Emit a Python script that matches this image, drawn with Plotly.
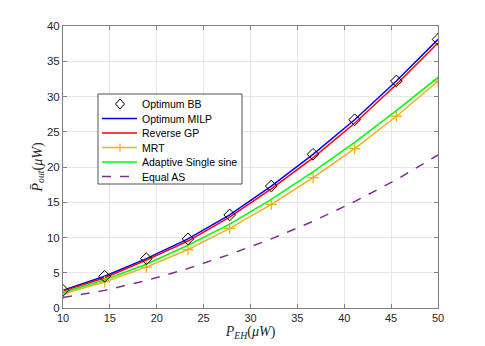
import plotly.graph_objects as go

p_eh = [10, 14.44, 18.89, 23.33, 27.78, 32.22, 36.67, 41.11, 45.56, 50]
opt_bb = [2.5, 4.5, 7.0, 9.8, 13.2, 17.3, 21.8, 26.7, 32.2, 38.1]
opt_milp = [2.5, 4.5, 7.0, 9.8, 13.2, 17.3, 21.8, 26.7, 32.2, 38.1]
rev_gp = [2.4, 4.3, 6.8, 9.5, 12.9, 16.9, 21.3, 26.2, 31.7, 37.6]
mrt = [2.0, 3.7, 5.8, 8.3, 11.3, 14.7, 18.5, 22.6, 27.2, 32.2]
adaptive = [2.2, 4.0, 6.2, 8.9, 11.9, 15.4, 19.3, 23.5, 28.0, 32.7]
equal_as = [1.5, 2.5, 3.9, 5.6, 7.6, 9.8, 12.3, 15.1, 18.2, 21.7]

legend_names = ["Optimum BB", "Optimum MILP", "Reverse GP", "MRT",
                "Adaptive Single sine", "Equal AS"]

_INK = "#262626"
_GRID = "#e6e6e6"
_AXIS = "#808080"
_FONT = "Liberation Sans, Arial, sans-serif"
_SERIF = "Liberation Serif, serif"

BLUE, RED, ORANGE, GREEN, PURPLE = "#0000FF", "#FF0000", "#EDB120", "#00FF00", "#7E2F8E"

fig = go.Figure()
fig.add_trace(go.Scatter(x=p_eh, y=opt_milp, mode="lines", line=dict(color=BLUE, width=1.5)))
fig.add_trace(go.Scatter(x=p_eh, y=rev_gp, mode="lines", line=dict(color=RED, width=1.5)))
fig.add_trace(go.Scatter(x=p_eh, y=mrt, mode="lines+markers", line=dict(color=ORANGE, width=1.5),
                         marker=dict(symbol="cross-thin", size=8,
                                     line=dict(color=ORANGE, width=1.3))))
fig.add_trace(go.Scatter(x=p_eh, y=adaptive, mode="lines", line=dict(color=GREEN, width=1.5)))
fig.add_trace(go.Scatter(x=p_eh, y=equal_as, mode="lines",
                         line=dict(color=PURPLE, width=1.5, dash="dash")))
fig.add_trace(go.Scatter(x=p_eh, y=opt_bb, mode="markers",
                         marker=dict(symbol="diamond-open", size=9, color="black",
                                     line=dict(width=1))))

# --- hand-built legend box (MATLAB-style compact rows) ---
plot_l, plot_r, plot_t, plot_b = 63, 438, 26, 308
def px(x):
    return (x - plot_l) / (plot_r - plot_l)
def py(y):
    return (plot_b - y) / (plot_b - plot_t)

shapes = [dict(type="rect", xref="paper", yref="paper", layer="above",
               x0=px(98), x1=px(242), y0=py(184), y1=py(94),
               fillcolor="white", line=dict(color=_INK, width=0.8))]
row_y = [104, 118.6, 133, 147.5, 162, 176.5]
line_styles = [None, (BLUE, "solid"), (RED, "solid"), (ORANGE, "solid"),
               (GREEN, "solid"), (PURPLE, "dash")]
annotations = []
for name, ry, st in zip(legend_names, row_y, line_styles):
    if st is not None:
        shapes.append(dict(type="line", xref="paper", yref="paper", layer="above",
                           x0=px(102), x1=px(137), y0=py(ry), y1=py(ry),
                           line=dict(color=st[0], width=1.5, dash=st[1])))
    annotations.append(dict(xref="paper", yref="paper", x=px(140), y=py(ry),
                            xanchor="left", yanchor="middle", showarrow=False,
                            text=name, font=dict(family=_FONT, size=10.5, color="black")))
# diamond glyph for Optimum BB
cx, cy = 120, row_y[0]
shapes.append(dict(type="path", xref="paper", yref="paper", layer="above",
                   path=f"M {px(cx-4.5)} {py(cy)} L {px(cx)} {py(cy-5)} L {px(cx+4.5)} {py(cy)} "
                        f"L {px(cx)} {py(cy+5)} Z",
                   line=dict(color="black", width=1)))
# plus glyph for MRT
cy = row_y[3]
shapes.append(dict(type="line", xref="paper", yref="paper", layer="above",
                   x0=px(cx), x1=px(cx), y0=py(cy - 4), y1=py(cy + 4),
                   line=dict(color=ORANGE, width=1.3)))

fig.update_layout(
    width=485, height=346,
    paper_bgcolor="white", plot_bgcolor="white",
    font=dict(family=_FONT, size=11, color=_INK),
    margin=dict(l=plot_l, r=485 - plot_r, t=plot_t, b=346 - plot_b),
    showlegend=False,
    shapes=shapes,
    annotations=annotations,
)

fig.update_xaxes(
    range=[10, 50], tickvals=[10, 15, 20, 25, 30, 35, 40, 45, 50],
    showgrid=True, gridcolor=_GRID, zeroline=False,
    showline=True, linecolor=_AXIS, linewidth=1, mirror="ticks",
    ticks="inside", ticklen=4, tickcolor=_AXIS,
    tickfont=dict(size=11, color=_INK),
    title=dict(text="<i>P</i><sub><i>EH</i></sub>(<i>μW</i>)", standoff=0,
               font=dict(family=_SERIF, size=14, color=_INK)),
)
fig.update_yaxes(
    range=[0, 40], tickvals=[0, 5, 10, 15, 20, 25, 30, 35, 40],
    showgrid=True, gridcolor=_GRID, zeroline=False,
    showline=True, linecolor=_AXIS, linewidth=1, mirror="ticks",
    ticks="inside", ticklen=4, tickcolor=_AXIS,
    tickfont=dict(size=11.5, color=_INK),
    title=dict(text="<i>P̄</i><sub><i>out</i></sub>(<i>μW</i>)", standoff=1,
               font=dict(family=_SERIF, size=14, color=_INK)),
)

# drop the page's default body margin so the figure sits at the window origin
fig.write_html("out.html", config={"displayModeBar": False},
               post_script="document.body.style.margin='0';")
